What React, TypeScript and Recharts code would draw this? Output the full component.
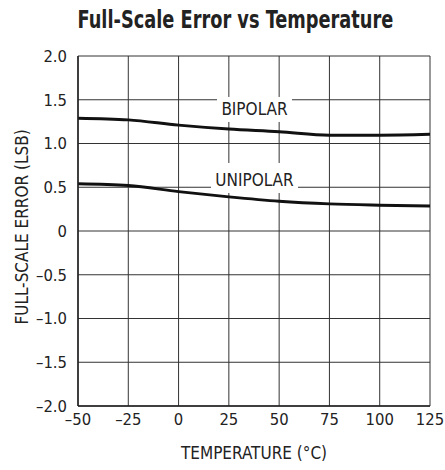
import { LineChart, Line, XAxis, YAxis, CartesianGrid, ReferenceDot } from "recharts";

const temps = [-50, -25, 0, 25, 50, 75, 100, 125];
const bipolar = [1.29, 1.27, 1.21, 1.165, 1.135, 1.095, 1.095, 1.105];
const unipolar = [0.54, 0.52, 0.45, 0.39, 0.34, 0.31, 0.295, 0.285];
const xTicks = [-50, -25, 0, 25, 50, 75, 100, 125];
const yTicks = [-2, -1.5, -1, -0.5, 0, 0.5, 1, 1.5, 2];

const FONT = '"Liberation Sans Narrow", "Arial Narrow", "DejaVu Sans Condensed", sans-serif';
const INK = "#222";

const data = temps.map((t, i) => ({ t, bipolar: bipolar[i], unipolar: unipolar[i] }));

const fmtY = (v: number) => (v === 0 ? "0" : v.toFixed(1).replace("-", "\u2013"));
const fmtX = (v: number) => String(v).replace("-", "\u2013");

const tickStyle = { fontFamily: FONT, fontSize: 16.5, fill: INK };

// boxed curve name, white box hides the grid behind it
const tag = (text: string, w: number, h: number, dy: number) => (props: any) => {
  const { cx, cy } = props;
  return (
    <g>
      <rect x={cx - w / 2} y={cy - h / 2} width={w} height={h} fill="#fff" />
      <text x={cx} y={cy + dy} textAnchor="middle" fontFamily={FONT} fontSize={17} fill={INK}>
        {text}
      </text>
    </g>
  );
};

export default function App() {
  return (
    <div style={{ position: "absolute", left: 0, top: 0, width: 445, height: 470, background: "#fff" }}>
      <div
        style={{
          position: "absolute",
          top: 5,
          left: 13,
          width: 445,
          textAlign: "center",
          fontFamily: FONT,
          fontWeight: 700,
          fontSize: 25,
          lineHeight: "30px",
          color: INK,
          transform: "scaleX(0.79)",
          transformOrigin: "222px 0",
          whiteSpace: "nowrap",
        }}
      >
        Full-Scale Error vs Temperature
      </div>
      <LineChart width={445} height={470} data={data} margin={{ top: 56, right: 15, bottom: 24, left: 18 }}>
        <CartesianGrid stroke="#333" strokeWidth={1} horizontalValues={yTicks} verticalValues={xTicks} />
        <XAxis
          dataKey="t"
          type="number"
          domain={[-50, 125]}
          ticks={xTicks}
          tickFormatter={fmtX}
          axisLine={{ stroke: INK, strokeWidth: 1.5 }}
          tickLine={false}
          height={40}
          tick={tickStyle}
          tickMargin={1}
          label={{
            content: (p: any) => {
              const vb = p.viewBox;
              return (
                <text x={vb.x + vb.width / 2} y={459} textAnchor="middle" fontFamily={FONT} fontSize={17} fill={INK}>
                  TEMPERATURE (°C)
                </text>
              );
            },
          }}
        />
        <YAxis
          type="number"
          domain={[-2, 2]}
          ticks={yTicks}
          tickFormatter={fmtY}
          axisLine={{ stroke: INK, strokeWidth: 1.5 }}
          tickLine={false}
          width={60}
          tick={tickStyle}
          tickMargin={5}
          label={{
            content: (p: any) => {
              const vb = p.viewBox;
              const cy = vb.y + vb.height / 2 - 4;
              return (
                <text
                  x={22}
                  y={cy}
                  transform={`rotate(-90, 22, ${cy})`}
                  textAnchor="middle"
                  dominantBaseline="central"
                  fontFamily={FONT}
                  fontSize={17}
                  fill={INK}
                >
                  FULL-SCALE ERROR (LSB)
                </text>
              );
            },
          }}
        />
        <Line
          dataKey="bipolar"
          type="monotone"
          stroke="#111"
          strokeWidth={3}
          dot={false}
          isAnimationActive={false}
        />
        <Line
          dataKey="unipolar"
          type="monotone"
          stroke="#111"
          strokeWidth={3}
          dot={false}
          isAnimationActive={false}
        />
        <ReferenceDot x={37.75} y={1.389} r={0} shape={tag("BIPOLAR", 75, 25, 6)} />
        <ReferenceDot x={37.75} y={0.606} r={0} shape={tag("UNIPOLAR", 87, 30, 8)} />
      </LineChart>
    </div>
  );
}
